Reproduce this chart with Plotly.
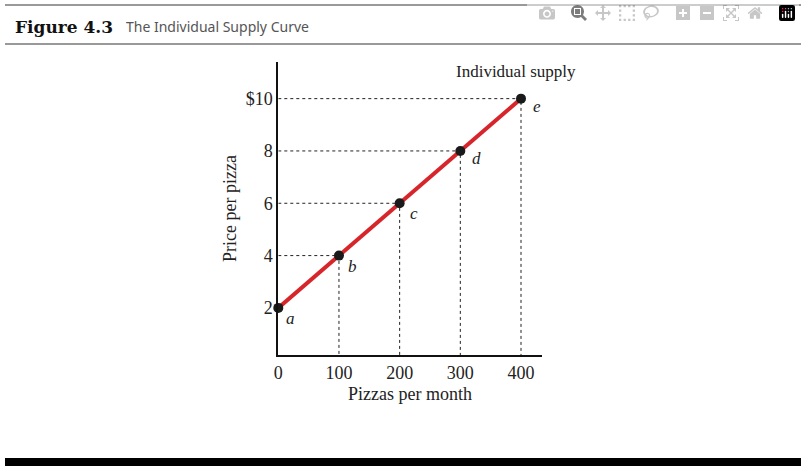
import plotly.graph_objects as go

quantity = [0, 100, 200, 300, 400]
price = [2, 4, 6, 8, 10]
labels = ["a", "b", "c", "d", "e"]
x_ticks = [0, 100, 200, 300, 400]
y_ticks = [2, 4, 6, 8, 10]
y_tick_text = ["2", "4", "6", "8", "$10"]

SERIF = "Liberation Serif"
fig = go.Figure()

# dashed guides
for q, p in zip(quantity[1:], price[1:]):
    fig.add_trace(go.Scatter(x=[0, q, q], y=[p, p, 0.2], mode="lines",
                             line=dict(color="#222", width=1, dash="3px,3px"),
                             hoverinfo="skip", showlegend=False))

fig.add_trace(go.Scatter(x=quantity, y=price, mode="lines",
                         line=dict(color="#d7262b", width=4), showlegend=False,
                         cliponaxis=False))
fig.add_trace(go.Scatter(x=quantity, y=price, mode="markers",
                         marker=dict(color="#1a1a1a", size=10), showlegend=False,
                         cliponaxis=False))

offsets = [(12, 11), (14, 11), (14, 10), (16, 8), (16, 8)]
for q, p, t, (dx, dy) in zip(quantity, price, labels, offsets):
    fig.add_annotation(x=q, y=p, text=f"<i>{t}</i>", showarrow=False, xshift=dx, yshift=-dy,
                       font=dict(family=SERIF, size=17, color="#222"))

fig.add_annotation(x=400, y=11.05, text="Individual supply", showarrow=False,
                   xshift=-5, font=dict(family=SERIF, size=17, color="#222"))

# header & footer
fig.add_shape(type="line", xref="paper", yref="paper", x0=0, x1=1,
              y0=1 - 5 / 466, y1=1 - 5 / 466, line=dict(color="#777", width=1.5))
fig.add_shape(type="line", xref="paper", yref="paper", x0=0, x1=1,
              y0=1 - 44 / 466, y1=1 - 44 / 466, line=dict(color="#777", width=1.5))
fig.add_shape(type="rect", xref="paper", yref="paper", x0=0, x1=1,
              y0=0, y1=8 / 466, fillcolor="black", line=dict(width=0))
fig.add_annotation(xref="paper", yref="paper", x=8 / 801, y=1 - 27 / 466,
                   xanchor="left", yanchor="middle", showarrow=False,
                   text="<b>Figure 4.3</b>",
                   font=dict(family="DejaVu Serif", size=17, color="#111"))
fig.add_annotation(xref="paper", yref="paper", x=120 / 801, y=1 - 26 / 466,
                   xanchor="left", yanchor="middle", showarrow=False,
                   text="The Individual Supply Curve",
                   font=dict(family="Noto Sans", size=14, color="#555"))

fig.update_layout(
    width=801, height=466, margin=dict(l=0, r=0, t=0, b=0),
    plot_bgcolor="white", paper_bgcolor="white",
    xaxis=dict(domain=[275 / 801, 540 / 801], range=[0, 434], tickvals=x_ticks,
               showgrid=False, zeroline=False, showline=True, linecolor="#111",
               linewidth=2, ticks="", tickfont=dict(family=SERIF, size=18, color="#222"),
               title=dict(text="Pizzas per month", font=dict(family=SERIF, size=18, color="#222"),
                          standoff=6)),
    yaxis=dict(domain=[111 / 466, 404 / 466], range=[0.2, 11.4], tickvals=y_ticks,
               ticktext=y_tick_text, showgrid=False, zeroline=False, showline=True,
               linecolor="#111", linewidth=2, ticks="",
               tickfont=dict(family=SERIF, size=18, color="#222"),
               title=dict(text="Price per pizza", font=dict(family=SERIF, size=18, color="#222"),
                          standoff=4)),
)

fig.write_html("out.html", post_script="document.body.style.margin='0';")
